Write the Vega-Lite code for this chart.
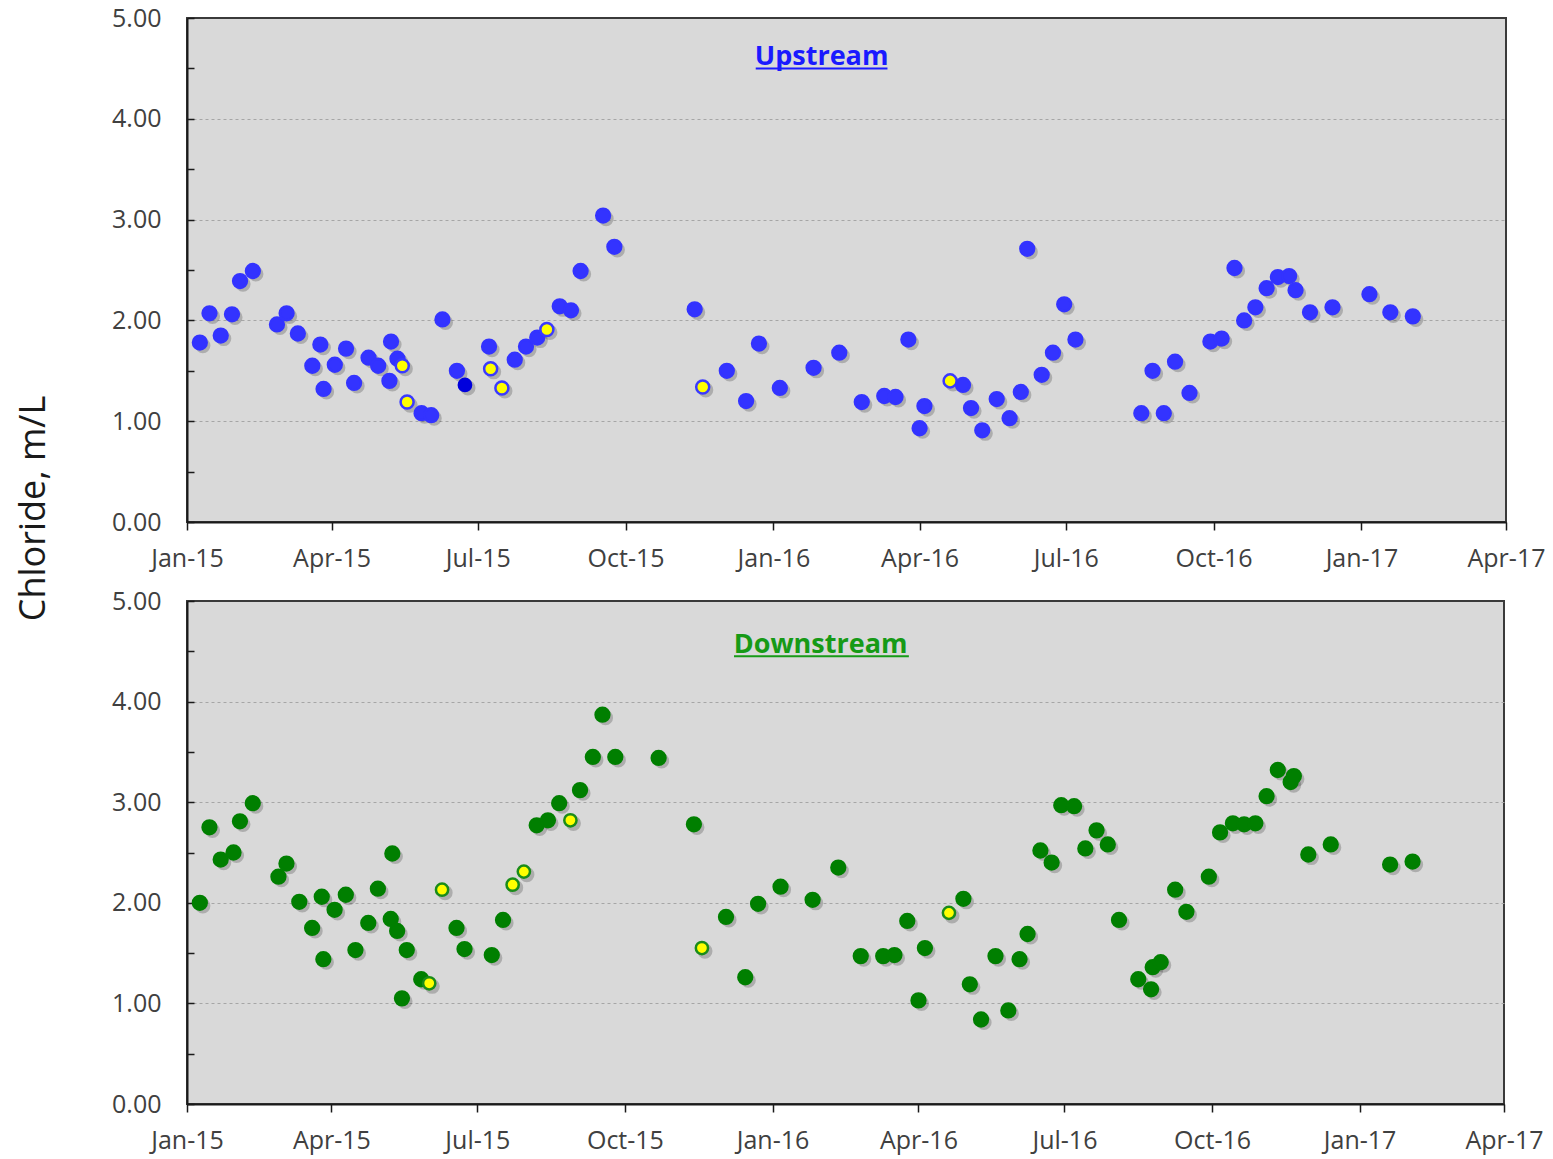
{
  "$schema": "https://vega.github.io/schema/vega-lite/v6.json",
  "background": "white",
  "padding": {"left": 14, "top": 5, "right": 5, "bottom": 5},
  "bounds": "flush",
  "spacing": 79,
  "resolve": {"scale": {"fill": "independent", "stroke": "independent", "size": "independent"}},
  "config": {
    "font": "Open Sans",
    "view": {"fill": "#d9d9d9", "stroke": "#3a3a3a", "strokeWidth": 2},
    "axis": {
      "labelFont": "Open Sans",
      "labelFontSize": 25,
      "labelColor": "#404040",
      "labelFlush": false,
      "labelOverlap": false,
      "domainColor": "#1a1a1a",
      "domainWidth": 2,
      "tickColor": "#1a1a1a",
      "tickWidth": 1.5,
      "titleFont": "Open Sans",
      "titleFontWeight": "normal",
      "titleColor": "#1a1a1a"
    }
  },
  "datasets": {
    "up": [
      {"d":"2015-01-09","v":1.78,"f":"n"},{"d":"2015-01-15","v":2.07,"f":"n"},{"d":"2015-01-22","v":1.85,"f":"n"},{"d":"2015-01-29","v":2.06,"f":"n"},
      {"d":"2015-02-03","v":2.39,"f":"n"},{"d":"2015-02-11","v":2.49,"f":"n"},{"d":"2015-02-26","v":1.96,"f":"n"},{"d":"2015-03-04","v":2.07,"f":"n"},
      {"d":"2015-03-11","v":1.87,"f":"n"},{"d":"2015-03-20","v":1.55,"f":"n"},{"d":"2015-03-25","v":1.76,"f":"n"},{"d":"2015-03-27","v":1.32,"f":"n"},
      {"d":"2015-04-03","v":1.56,"f":"n"},{"d":"2015-04-10","v":1.72,"f":"n"},{"d":"2015-04-15","v":1.38,"f":"n"},{"d":"2015-04-24","v":1.63,"f":"n"},
      {"d":"2015-04-30","v":1.55,"f":"n"},{"d":"2015-05-07","v":1.40,"f":"n"},{"d":"2015-05-08","v":1.79,"f":"n"},{"d":"2015-05-12","v":1.62,"f":"n"},
      {"d":"2015-05-15","v":1.55,"f":"y"},{"d":"2015-05-18","v":1.19,"f":"y"},{"d":"2015-05-27","v":1.08,"f":"n"},{"d":"2015-06-02","v":1.06,"f":"n"},
      {"d":"2015-06-09","v":2.01,"f":"n"},{"d":"2015-06-18","v":1.50,"f":"n"},{"d":"2015-06-23","v":1.36,"f":"d"},{"d":"2015-07-08","v":1.74,"f":"n"},
      {"d":"2015-07-09","v":1.52,"f":"y"},{"d":"2015-07-16","v":1.33,"f":"y"},{"d":"2015-07-24","v":1.61,"f":"n"},{"d":"2015-07-31","v":1.74,"f":"n"},
      {"d":"2015-08-07","v":1.83,"f":"n"},{"d":"2015-08-13","v":1.91,"f":"y"},{"d":"2015-08-21","v":2.14,"f":"n"},{"d":"2015-08-28","v":2.10,"f":"n"},
      {"d":"2015-09-03","v":2.49,"f":"n"},{"d":"2015-09-17","v":3.04,"f":"n"},{"d":"2015-09-24","v":2.73,"f":"n"},{"d":"2015-11-13","v":2.11,"f":"n"},
      {"d":"2015-11-18","v":1.34,"f":"y"},{"d":"2015-12-03","v":1.50,"f":"n"},{"d":"2015-12-15","v":1.20,"f":"n"},{"d":"2015-12-23","v":1.77,"f":"n"},
      {"d":"2016-01-05","v":1.33,"f":"n"},{"d":"2016-01-26","v":1.53,"f":"n"},{"d":"2016-02-11","v":1.68,"f":"n"},{"d":"2016-02-25","v":1.19,"f":"n"},
      {"d":"2016-03-10","v":1.25,"f":"n"},{"d":"2016-03-17","v":1.24,"f":"n"},{"d":"2016-03-25","v":1.81,"f":"n"},{"d":"2016-04-01","v":0.93,"f":"n"},
      {"d":"2016-04-04","v":1.15,"f":"n"},{"d":"2016-04-20","v":1.40,"f":"y"},{"d":"2016-04-28","v":1.36,"f":"n"},{"d":"2016-05-03","v":1.13,"f":"n"},
      {"d":"2016-05-10","v":0.91,"f":"n"},{"d":"2016-05-19","v":1.22,"f":"n"},{"d":"2016-05-27","v":1.03,"f":"n"},{"d":"2016-06-03","v":1.29,"f":"n"},
      {"d":"2016-06-07","v":2.71,"f":"n"},{"d":"2016-06-16","v":1.46,"f":"n"},{"d":"2016-06-23","v":1.68,"f":"n"},{"d":"2016-06-30","v":2.16,"f":"n"},
      {"d":"2016-07-07","v":1.81,"f":"n"},{"d":"2016-08-17","v":1.08,"f":"n"},{"d":"2016-08-24","v":1.50,"f":"n"},{"d":"2016-08-31","v":1.08,"f":"n"},
      {"d":"2016-09-07","v":1.59,"f":"n"},{"d":"2016-09-16","v":1.28,"f":"n"},{"d":"2016-09-29","v":1.79,"f":"n"},{"d":"2016-10-06","v":1.82,"f":"n"},
      {"d":"2016-10-14","v":2.52,"f":"n"},{"d":"2016-10-20","v":2.00,"f":"n"},{"d":"2016-10-27","v":2.13,"f":"n"},{"d":"2016-11-03","v":2.32,"f":"n"},
      {"d":"2016-11-10","v":2.43,"f":"n"},{"d":"2016-11-17","v":2.44,"f":"n"},{"d":"2016-11-21","v":2.30,"f":"n"},{"d":"2016-11-30","v":2.08,"f":"n"},
      {"d":"2016-12-14","v":2.13,"f":"n"},{"d":"2017-01-06","v":2.26,"f":"n"},{"d":"2017-01-19","v":2.08,"f":"n"},{"d":"2017-02-02","v":2.04,"f":"n"}
    ],
    "down": [
      {"d":"2015-01-09","v":2.00,"f":"n"},{"d":"2015-01-15","v":2.75,"f":"n"},{"d":"2015-01-22","v":2.43,"f":"n"},{"d":"2015-01-30","v":2.50,"f":"n"},
      {"d":"2015-02-03","v":2.81,"f":"n"},{"d":"2015-02-11","v":2.99,"f":"n"},{"d":"2015-02-27","v":2.26,"f":"n"},{"d":"2015-03-04","v":2.39,"f":"n"},
      {"d":"2015-03-12","v":2.01,"f":"n"},{"d":"2015-03-20","v":1.75,"f":"n"},{"d":"2015-03-26","v":2.06,"f":"n"},{"d":"2015-03-27","v":1.44,"f":"n"},
      {"d":"2015-04-03","v":1.93,"f":"n"},{"d":"2015-04-10","v":2.08,"f":"n"},{"d":"2015-04-16","v":1.53,"f":"n"},{"d":"2015-04-24","v":1.80,"f":"n"},
      {"d":"2015-04-30","v":2.14,"f":"n"},{"d":"2015-05-08","v":1.84,"f":"n"},{"d":"2015-05-09","v":2.49,"f":"n"},{"d":"2015-05-12","v":1.72,"f":"n"},
      {"d":"2015-05-15","v":1.05,"f":"n"},{"d":"2015-05-18","v":1.53,"f":"n"},{"d":"2015-05-27","v":1.24,"f":"n"},{"d":"2015-06-01","v":1.20,"f":"y"},
      {"d":"2015-06-09","v":2.13,"f":"y"},{"d":"2015-06-18","v":1.75,"f":"n"},{"d":"2015-06-23","v":1.54,"f":"n"},{"d":"2015-07-10","v":1.48,"f":"n"},
      {"d":"2015-07-17","v":1.83,"f":"n"},{"d":"2015-07-23","v":2.18,"f":"y"},{"d":"2015-07-30","v":2.31,"f":"y"},{"d":"2015-08-07","v":2.77,"f":"n"},
      {"d":"2015-08-14","v":2.82,"f":"n"},{"d":"2015-08-21","v":2.99,"f":"n"},{"d":"2015-08-28","v":2.82,"f":"y"},{"d":"2015-09-03","v":3.12,"f":"n"},
      {"d":"2015-09-11","v":3.45,"f":"n"},{"d":"2015-09-17","v":3.87,"f":"n"},{"d":"2015-09-25","v":3.45,"f":"n"},{"d":"2015-10-22","v":3.44,"f":"n"},
      {"d":"2015-11-13","v":2.78,"f":"n"},{"d":"2015-11-18","v":1.55,"f":"y"},{"d":"2015-12-03","v":1.86,"f":"n"},{"d":"2015-12-15","v":1.26,"f":"n"},
      {"d":"2015-12-23","v":1.99,"f":"n"},{"d":"2016-01-06","v":2.16,"f":"n"},{"d":"2016-01-26","v":2.03,"f":"n"},{"d":"2016-02-11","v":2.35,"f":"n"},
      {"d":"2016-02-25","v":1.47,"f":"n"},{"d":"2016-03-10","v":1.47,"f":"n"},{"d":"2016-03-17","v":1.48,"f":"n"},{"d":"2016-03-25","v":1.82,"f":"n"},
      {"d":"2016-04-01","v":1.03,"f":"n"},{"d":"2016-04-05","v":1.55,"f":"n"},{"d":"2016-04-20","v":1.90,"f":"y"},{"d":"2016-04-29","v":2.04,"f":"n"},
      {"d":"2016-05-03","v":1.19,"f":"n"},{"d":"2016-05-10","v":0.84,"f":"n"},{"d":"2016-05-19","v":1.47,"f":"n"},{"d":"2016-05-27","v":0.93,"f":"n"},
      {"d":"2016-06-03","v":1.44,"f":"n"},{"d":"2016-06-08","v":1.69,"f":"n"},{"d":"2016-06-16","v":2.52,"f":"n"},{"d":"2016-06-23","v":2.40,"f":"n"},
      {"d":"2016-06-29","v":2.97,"f":"n"},{"d":"2016-07-07","v":2.96,"f":"n"},{"d":"2016-07-14","v":2.54,"f":"n"},{"d":"2016-07-21","v":2.72,"f":"n"},
      {"d":"2016-07-28","v":2.58,"f":"n"},{"d":"2016-08-04","v":1.83,"f":"n"},{"d":"2016-08-16","v":1.24,"f":"n"},{"d":"2016-08-24","v":1.14,"f":"n"},
      {"d":"2016-08-25","v":1.36,"f":"n"},{"d":"2016-08-30","v":1.41,"f":"n"},{"d":"2016-09-08","v":2.13,"f":"n"},{"d":"2016-09-15","v":1.91,"f":"n"},
      {"d":"2016-09-29","v":2.26,"f":"n"},{"d":"2016-10-06","v":2.70,"f":"n"},{"d":"2016-10-14","v":2.79,"f":"n"},{"d":"2016-10-21","v":2.78,"f":"n"},
      {"d":"2016-10-28","v":2.79,"f":"n"},{"d":"2016-11-04","v":3.06,"f":"n"},{"d":"2016-11-11","v":3.32,"f":"n"},{"d":"2016-11-19","v":3.20,"f":"n"},
      {"d":"2016-11-21","v":3.26,"f":"n"},{"d":"2016-11-30","v":2.48,"f":"n"},{"d":"2016-12-14","v":2.58,"f":"n"},{"d":"2017-01-20","v":2.38,"f":"n"},
      {"d":"2017-02-03","v":2.41,"f":"n"}
    ]
  },
  "vconcat": [
    {
      "width": 1319,
      "height": 504,
      "data": {"name": "up"},
      "layer": [
        {
          "mark": {"type": "point", "filled": true, "size": 230, "color": "#000000", "opacity": 0.2, "xOffset": 3, "yOffset": 3},
          "encoding": {
            "x": {
              "field": "d", "type": "temporal",
              "scale": {"type": "utc", "domain": [{"year": 2015, "month": 1, "date": 1, "utc": true}, {"year": 2017, "month": 4, "date": 1, "utc": true}]},
              "axis": {
                "title": null, "format": "%b-%y", "grid": false, "tickSize": 8, "labelPadding": 16,
                "values": [
                  {"year": 2015, "month": 1, "date": 1, "utc": true}, {"year": 2015, "month": 4, "date": 1, "utc": true},
                  {"year": 2015, "month": 7, "date": 1, "utc": true}, {"year": 2015, "month": 10, "date": 1, "utc": true},
                  {"year": 2016, "month": 1, "date": 1, "utc": true}, {"year": 2016, "month": 4, "date": 1, "utc": true},
                  {"year": 2016, "month": 7, "date": 1, "utc": true}, {"year": 2016, "month": 10, "date": 1, "utc": true},
                  {"year": 2017, "month": 1, "date": 1, "utc": true}, {"year": 2017, "month": 4, "date": 1, "utc": true}
                ]
              }
            },
            "y": {
              "field": "v", "type": "quantitative",
              "scale": {"domain": [0, 5], "nice": false},
              "axis": {
                "title": "Chloride, m/L", "titleFontSize": 36, "titleX": -154, "titleY": 490, "titleAngle": -90,
                "titleAlign": "center", "titleBaseline": "middle",
                "values": [0, 0.5, 1, 1.5, 2, 2.5, 3, 3.5, 4, 4.5, 5],
                "labelExpr": "datum.value % 1 === 0 ? format(datum.value, '.2f') : ''",
                "tickSize": -7, "labelPadding": 33,
                "grid": true, "gridColor": "#a6a6a6", "gridDash": [3, 3], "gridWidth": 1,
                "gridOpacity": {"condition": {"test": "datum.value % 1 === 0 && datum.value > 0 && datum.value < 5", "value": 1}, "value": 0}
              }
            }
          }
        },
        {
          "mark": {"type": "point", "filled": true, "strokeWidth": 2.5, "opacity": 1},
          "encoding": {
            "x": {"field": "d", "type": "temporal"},
            "y": {"field": "v", "type": "quantitative"},
            "fill": {"field": "f", "type": "nominal", "scale": {"domain": ["n", "y", "d"], "range": ["#3333ff", "#ffff00", "#0000dd"]}, "legend": null},
            "stroke": {"field": "f", "type": "nominal", "scale": {"domain": ["n", "y", "d"], "range": ["#3333ff", "#3a3aff", "#0000dd"]}, "legend": null},
            "size": {"field": "f", "type": "nominal", "scale": {"domain": ["n", "y", "d"], "range": [190, 150, 190]}, "legend": null}
          }
        },
        {
          "data": {"values": [{}]},
          "mark": {"type": "text", "text": "Upstream", "font": "Open Sans", "fontSize": 27, "fontWeight": "bold", "color": "#1a1aff", "align": "center", "baseline": "middle"},
          "encoding": {
            "x": {"datum": {"year": 2016, "month": 1, "date": 31, "utc": true}, "type": "temporal"},
            "y": {"datum": 4.61, "type": "quantitative"}
          }
        },
        {
          "data": {"values": [{}]},
          "mark": {"type": "rule", "color": "#1a1aff", "strokeWidth": 2},
          "encoding": {
            "x": {"datum": {"year": 2015, "month": 12, "date": 21, "utc": true}, "type": "temporal"},
            "x2": {"datum": {"year": 2016, "month": 3, "date": 12, "utc": true}},
            "y": {"datum": 4.5, "type": "quantitative"}
          }
        }
      ]
    },
    {
      "width": 1317,
      "height": 503,
      "data": {"name": "down"},
      "layer": [
        {
          "mark": {"type": "point", "filled": true, "size": 230, "color": "#000000", "opacity": 0.2, "xOffset": 3, "yOffset": 3},
          "encoding": {
            "x": {
              "field": "d", "type": "temporal",
              "scale": {"type": "utc", "domain": [{"year": 2015, "month": 1, "date": 1, "utc": true}, {"year": 2017, "month": 4, "date": 1, "utc": true}]},
              "axis": {
                "title": null, "format": "%b-%y", "grid": false, "tickSize": 8, "labelPadding": 16,
                "values": [
                  {"year": 2015, "month": 1, "date": 1, "utc": true}, {"year": 2015, "month": 4, "date": 1, "utc": true},
                  {"year": 2015, "month": 7, "date": 1, "utc": true}, {"year": 2015, "month": 10, "date": 1, "utc": true},
                  {"year": 2016, "month": 1, "date": 1, "utc": true}, {"year": 2016, "month": 4, "date": 1, "utc": true},
                  {"year": 2016, "month": 7, "date": 1, "utc": true}, {"year": 2016, "month": 10, "date": 1, "utc": true},
                  {"year": 2017, "month": 1, "date": 1, "utc": true}, {"year": 2017, "month": 4, "date": 1, "utc": true}
                ]
              }
            },
            "y": {
              "field": "v", "type": "quantitative",
              "scale": {"domain": [0, 5], "nice": false},
              "axis": {
                "title": null,
                "values": [0, 0.5, 1, 1.5, 2, 2.5, 3, 3.5, 4, 4.5, 5],
                "labelExpr": "datum.value % 1 === 0 ? format(datum.value, '.2f') : ''",
                "tickSize": -7, "labelPadding": 33,
                "grid": true, "gridColor": "#a6a6a6", "gridDash": [3, 3], "gridWidth": 1,
                "gridOpacity": {"condition": {"test": "datum.value % 1 === 0 && datum.value > 0 && datum.value < 5", "value": 1}, "value": 0}
              }
            }
          }
        },
        {
          "mark": {"type": "point", "filled": true, "strokeWidth": 2.5, "opacity": 1},
          "encoding": {
            "x": {"field": "d", "type": "temporal"},
            "y": {"field": "v", "type": "quantitative"},
            "fill": {"field": "f", "type": "nominal", "scale": {"domain": ["n", "y"], "range": ["#007f00", "#ffff00"]}, "legend": null},
            "stroke": {"field": "f", "type": "nominal", "scale": {"domain": ["n", "y"], "range": ["#007f00", "#1a8c1a"]}, "legend": null},
            "size": {"field": "f", "type": "nominal", "scale": {"domain": ["n", "y"], "range": [190, 150]}, "legend": null}
          }
        },
        {
          "data": {"values": [{}]},
          "mark": {"type": "text", "text": "Downstream", "font": "Open Sans", "fontSize": 27, "fontWeight": "bold", "color": "#169a16", "align": "center", "baseline": "middle"},
          "encoding": {
            "x": {"datum": {"year": 2016, "month": 1, "date": 31, "utc": true}, "type": "temporal"},
            "y": {"datum": 4.56, "type": "quantitative"}
          }
        },
        {
          "data": {"values": [{}]},
          "mark": {"type": "rule", "color": "#169a16", "strokeWidth": 2},
          "encoding": {
            "x": {"datum": {"year": 2015, "month": 12, "date": 8, "utc": true}, "type": "temporal"},
            "x2": {"datum": {"year": 2016, "month": 3, "date": 26, "utc": true}},
            "y": {"datum": 4.45, "type": "quantitative"}
          }
        }
      ]
    }
  ]
}
